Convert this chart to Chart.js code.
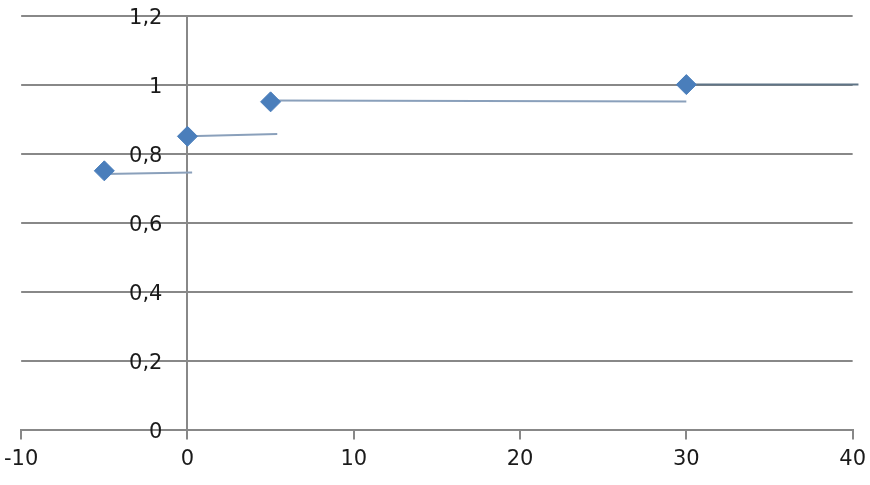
<!DOCTYPE html>
<html>
<head>
<meta charset="utf-8">
<script src="https://cdn.jsdelivr.net/npm/chart.js@4.4.1/dist/chart.umd.min.js"></script>
<style>
html,body{margin:0;padding:0;background:#fff;}
#wrap{width:870px;height:485px;}
</style>
</head>
<body>
<div id="wrap"><canvas id="c" width="870" height="485"></canvas></div>
<script>
// Marker points
const pointX = [-5, 0, 5, 30];
const pointY = [0.75, 0.85, 0.95, 1];

// Step segments: start/end x and y
const seg1X = [-5, 0.28];   const seg1Y = [0.741, 0.745];
const seg2X = [0, 5.4];     const seg2Y = [0.850, 0.857];
const seg3X = [5, 30];      const seg3Y = [0.954, 0.951];
const seg4X = [30, 40.35];  const seg4Y = [1, 1];

const xMin = -10, xMax = 40, xStep = 10;
const yMin = 0, yMax = 1.2, yStep = 0.2;

function pts(xs, ys){ return xs.map((x,i)=>({x:x, y:ys[i]})); }

const GRID = '#888888';
const FONT_X = {family: 'DejaVu Sans', size: 21, lineHeight: 1.5};
const FONT_Y = {family: 'DejaVu Sans', size: 21};

function lineDs(xs, ys, color){
  return {
    data: pts(xs, ys), showLine: true, pointRadius: 0, pointHoverRadius: 0,
    borderColor: color, borderWidth: 2, fill: false, clip: false, order: 2
  };
}

// shift y tick labels left of the crossing axis line (tick padding is not applied for value-positioned axes)
function shiftYLabels(scale){
  if (!scale._shiftPatched) {
    scale._shiftPatched = true;
    const orig = Object.getPrototypeOf(scale)._computeLabelItems;
    scale._computeLabelItems = function(ca){
      const items = orig.call(this, ca);
      items.forEach(it => {
        if (it.options && it.options.translation) {
          it.options.translation[0] -= 25;
          it.options.translation[1] += 3;
        } else if (it.translation) {
          it.translation[0] -= 25;
          it.translation[1] += 3;
        }
      });
      return items;
    };
  }
  scale._labelItems = null;
}

new Chart(document.getElementById('c'), {
  type: 'scatter',
  data: {
    datasets: [
      lineDs(seg1X, seg1Y, '#8aa0bb'),
      lineDs(seg2X, seg2Y, '#8aa0bb'),
      lineDs(seg3X, seg3Y, '#8aa0bb'),
      lineDs(seg4X, seg4Y, '#5f7486'),
      {
        data: pts(pointX, pointY), showLine: false,
        pointStyle: 'rectRot', pointRadius: 10, pointHoverRadius: 10,
        backgroundColor: '#4a7ebb', borderColor: '#4a7ebb', borderWidth: 1, order: 1
      }
    ]
  },
  options: {
    responsive: false,
    animation: false,
    events: [],
    layout: {padding: {left: 0, right: 0, top: -6, bottom: 6}},
    plugins: {legend: {display: false}, tooltip: {enabled: false}},
    scales: {
      x: {
        type: 'linear', min: xMin, max: xMax,
        ticks: {stepSize: xStep, color: '#1a1a1a', font: FONT_X, padding: 4, maxRotation: 0},
        grid: {drawOnChartArea: false, drawTicks: true, tickLength: 10, color: GRID, lineWidth: 2},
        border: {display: true, color: GRID, width: 2}
      },
      y: {
        type: 'linear', min: yMin, max: yMax,
        position: {x: 0},
        afterUpdate: shiftYLabels,
        ticks: {stepSize: yStep, color: '#1a1a1a', font: FONT_Y,
          callback: v => Number(v.toFixed(1)).toString().replace('.', ',')},
        grid: {drawTicks: false, color: GRID, lineWidth: 2},
        border: {display: true, color: GRID, width: 2}
      }
    }
  }
});
</script>
</body>
</html>
